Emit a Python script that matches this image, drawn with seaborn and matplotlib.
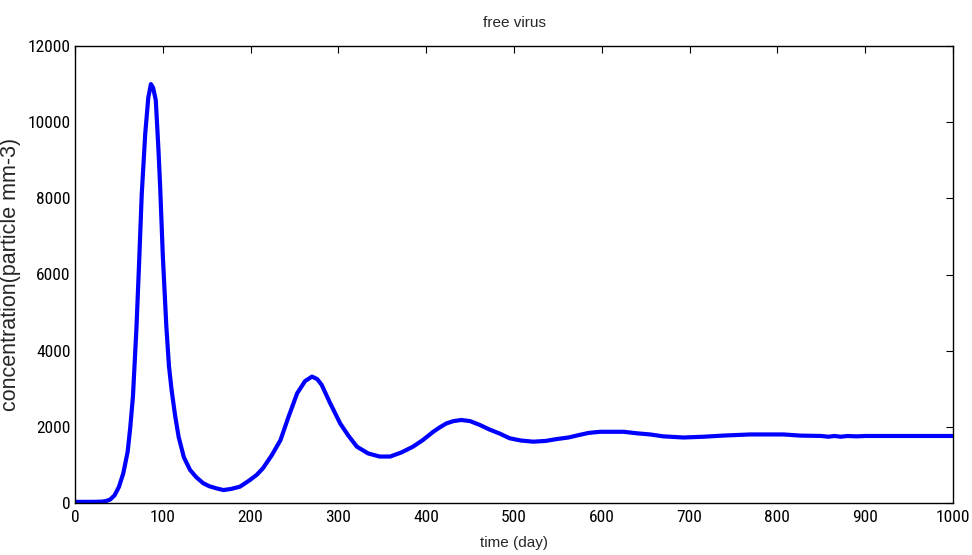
import matplotlib
matplotlib.use("Agg")
import matplotlib.pyplot as plt
from matplotlib import font_manager
import seaborn as sns
import pandas as pd

time_day = [0, 10, 20, 30, 35, 40, 45, 50, 55, 60, 63, 66, 70, 73, 76, 80, 83.5, 86.5, 89, 92,
            95, 97, 100, 104, 107, 110, 114, 118, 124, 131, 138, 146, 153, 161, 169, 178, 188,
            199, 207, 214, 224, 234, 243, 253, 262, 270, 276, 281, 290, 302, 311, 321, 334, 347,
            359, 372, 385, 396, 408, 415, 423, 431, 440, 450, 461, 472, 484, 495, 508, 522, 536,
            549, 562, 575, 585, 598, 610, 625, 640, 655, 670, 693, 716, 738, 769, 807, 826, 850,
            858, 865, 872, 880, 890, 900, 950, 1000]
concentration = [30, 30, 30, 35, 50, 90, 200, 420, 780, 1350, 2000, 2800, 4600, 6300, 8100, 9700,
                 10650, 11000, 10900, 10580, 9300, 8300, 6500, 4650, 3600, 2970, 2300, 1740, 1200,
                 870, 680, 520, 440, 385, 340, 370, 430, 600, 740, 910, 1250, 1650, 2250, 2880,
                 3200, 3320, 3250, 3100, 2650, 2090, 1780, 1480, 1300, 1220, 1220, 1330, 1480,
                 1650, 1870, 1980, 2090, 2150, 2180, 2150, 2050, 1930, 1820, 1700, 1640, 1610,
                 1630, 1680, 1720, 1790, 1840, 1870, 1870, 1870, 1830, 1800, 1750, 1720, 1740,
                 1770, 1800, 1800, 1770, 1760, 1740, 1760, 1740, 1760, 1750, 1760, 1760, 1760]
x_ticks = [0, 100, 200, 300, 400, 500, 600, 700, 800, 900, 1000]
y_ticks = [0, 2000, 4000, 6000, 8000, 10000, 12000]


def pick_font(cands):
    for c in cands:
        try:
            font_manager.findfont(c, fallback_to_default=False)
            return c
        except Exception:
            continue
    return None


narrow = pick_font(['Liberation Sans Narrow', 'DejaVu Sans Condensed', 'Roboto Condensed'])

sns.set_style("white")
plt.rcParams['font.family'] = ['Liberation Sans', 'DejaVu Sans']

df = pd.DataFrame({"time": time_day, "conc": concentration})

fig = plt.figure(figsize=(9.72, 5.55), dpi=100)
ax = fig.add_axes([75/972, 1-503/555, (953-75)/972, (503-46)/555])
sns.lineplot(data=df, x="time", y="conc", ax=ax, color=(0, 0, 1), linewidth=3)

ax.set_xlim(0, 1000)
ax.set_ylim(0, 12000)
ax.set_xticks(x_ticks)
ax.set_yticks(y_ticks)
ax.set_xticklabels([str(v) for v in x_ticks])
ax.set_yticklabels([str(v) for v in y_ticks])
tick_size = 13.5 if narrow == 'Liberation Sans Narrow' else 12.5
ax.tick_params(direction='in', length=5, width=0.8, top=True, right=True,
               labelsize=tick_size, colors='black')
ax.tick_params(axis='x', pad=5)
ax.tick_params(axis='y', pad=3)
if narrow:
    for lab in ax.get_xticklabels() + ax.get_yticklabels():
        lab.set_family([narrow, 'Liberation Sans'])
for s in ax.spines.values():
    s.set_color('black')
    s.set_linewidth(1.0)

ax.set_xlabel("time (day)", fontsize=11, labelpad=8)
ax.set_ylabel("concentration(particle mm-3)", fontsize=15.5, labelpad=5)
ax.set_title("free virus", fontsize=11, pad=14)

fig.savefig("out.png", dpi=100)
